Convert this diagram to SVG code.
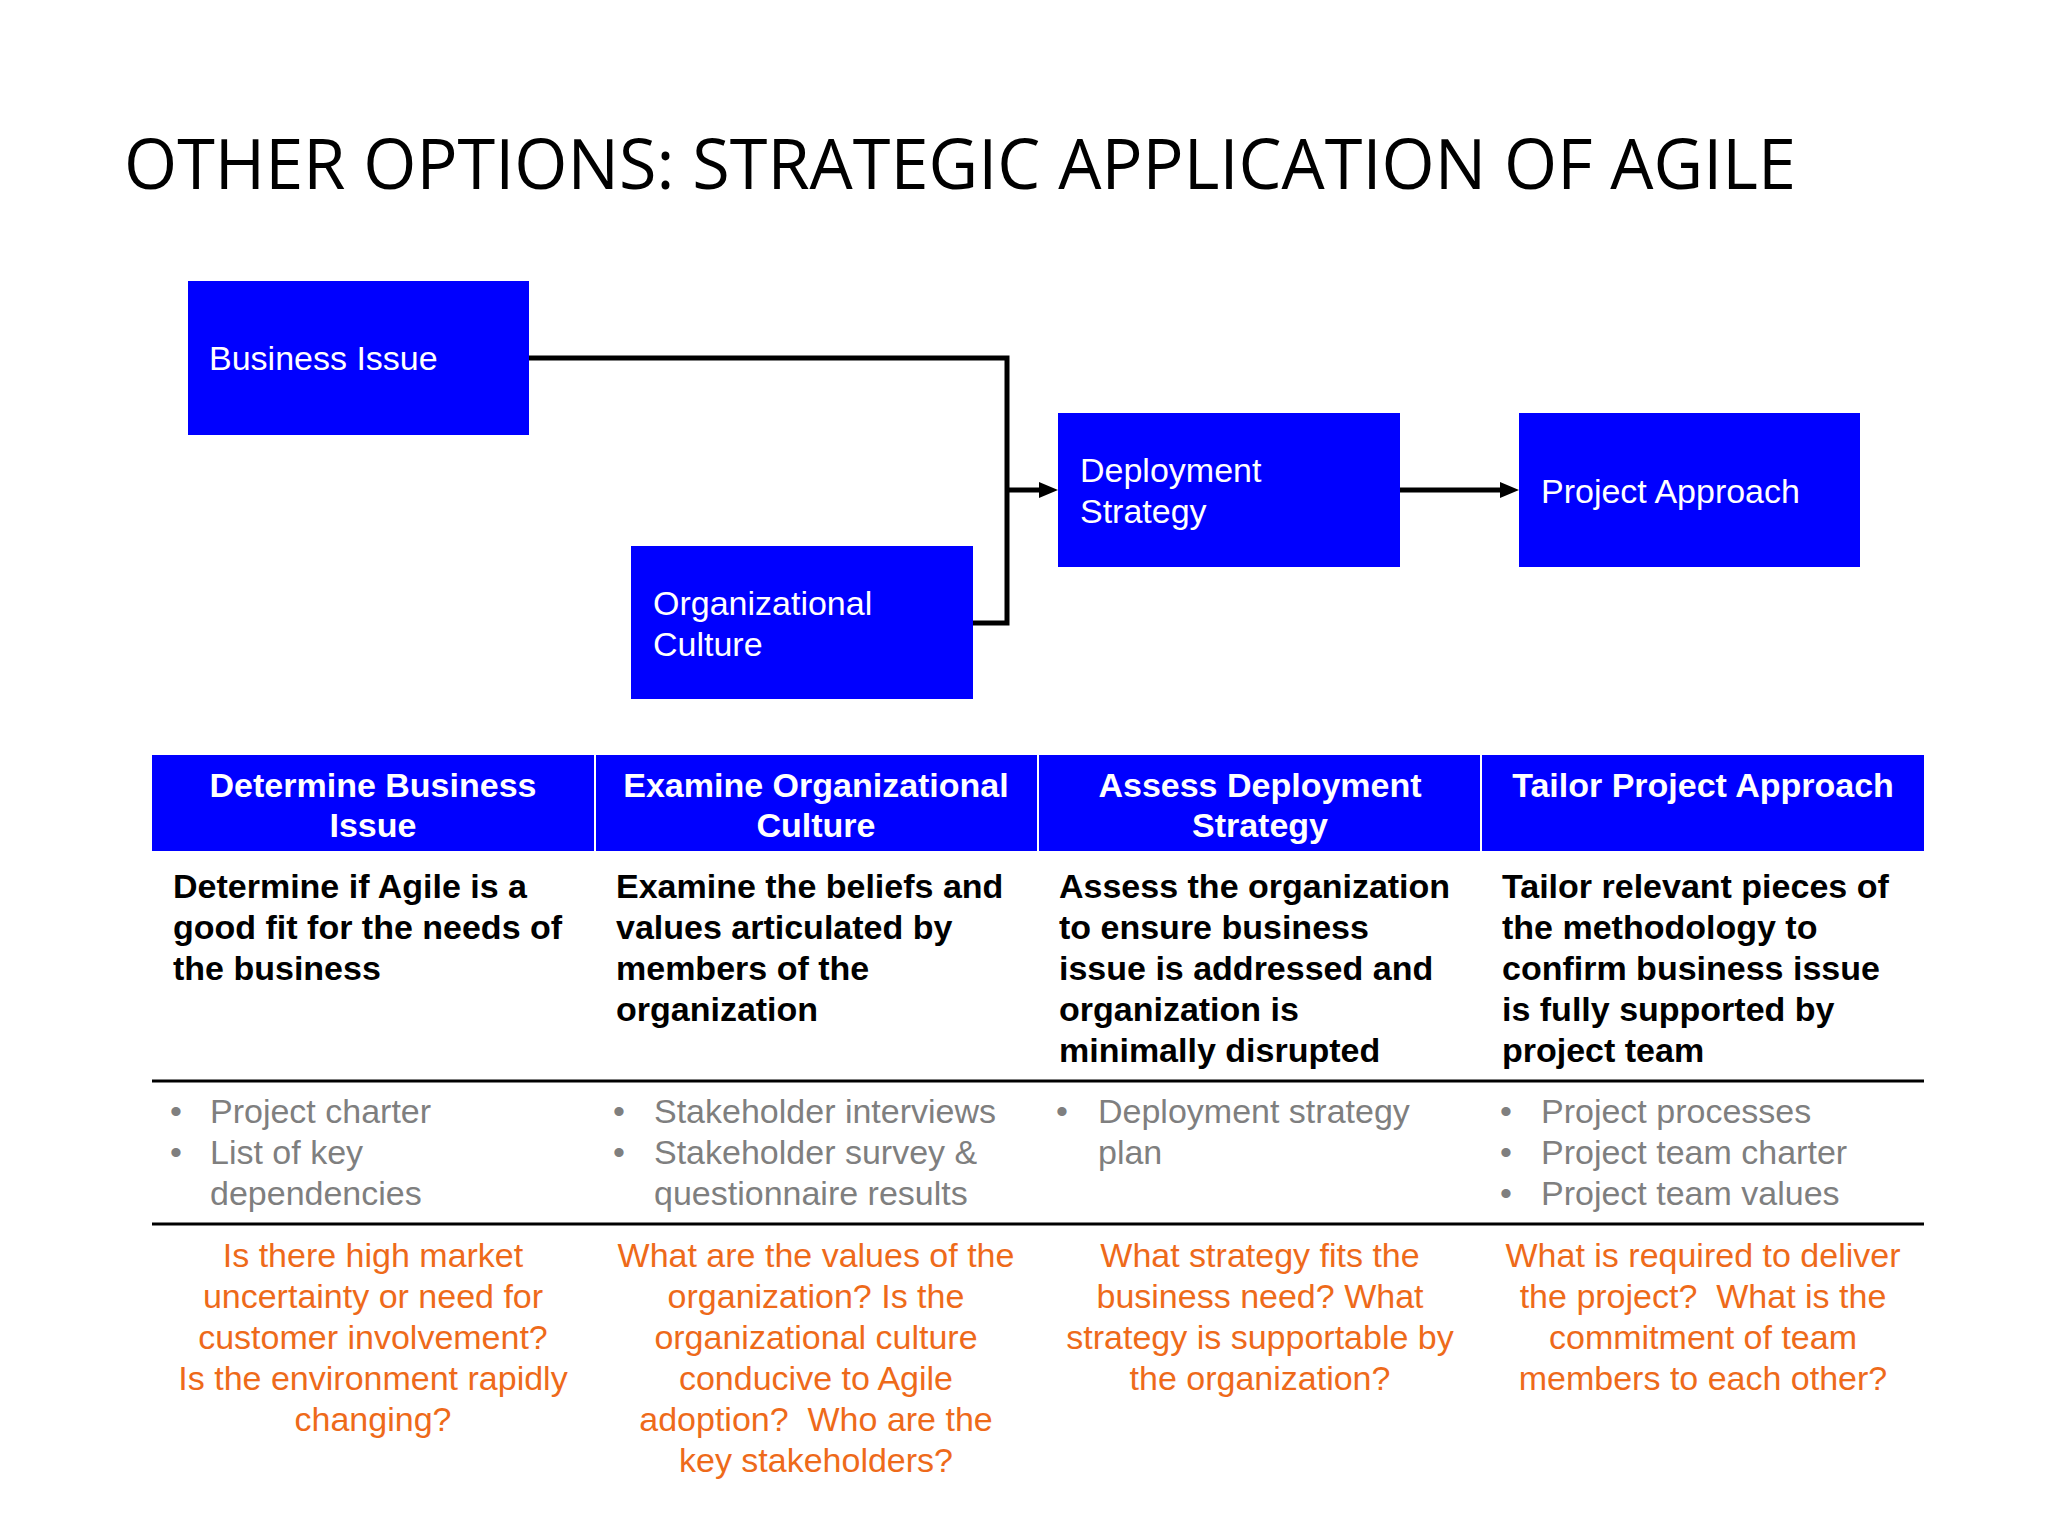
<svg xmlns="http://www.w3.org/2000/svg" width="2048" height="1536" viewBox="0 0 2048 1536">
<style>
.box{fill:#0000FF}
.lbl{font-family:"Liberation Sans",Arial,sans-serif;font-size:34px;fill:#FFFFFF}
.hdr{font-family:"Liberation Sans",Arial,sans-serif;font-size:34px;font-weight:bold;fill:#FFFFFF;text-anchor:middle}
.desc{font-family:"Liberation Sans",Arial,sans-serif;font-size:34px;font-weight:bold;fill:#000000}
.bul{font-family:"Liberation Sans",Arial,sans-serif;font-size:34px;fill:#7F7F7F}
.q{font-family:"Liberation Sans",Arial,sans-serif;font-size:34px;fill:#EE6A1A;text-anchor:middle}
.conn{fill:none;stroke:#000000;stroke-width:5}
.rule{stroke:#000000;stroke-width:3}
</style>
<defs>
<marker id="arr" markerUnits="userSpaceOnUse" markerWidth="19" markerHeight="16" refX="6" refY="8" orient="auto">
<path d="M0,0 L19,8 L0,16 z" fill="#000000"/>
</marker>
</defs>
<rect width="2048" height="1536" fill="#FFFFFF"/>
<text x="124" y="189" font-family="'Open Sans','Liberation Sans',sans-serif" font-size="70" fill="#000000" textLength="1672" lengthAdjust="spacingAndGlyphs">OTHER OPTIONS: STRATEGIC APPLICATION OF AGILE</text>

<g id="connectors">
<polyline class="conn" points="529,358 1007,358 1007,623 973,623"/>
<line class="conn" x1="1005" y1="490" x2="1045" y2="490" marker-end="url(#arr)"/>
<line class="conn" x1="1400" y1="490" x2="1506" y2="490" marker-end="url(#arr)"/>
</g>

<g id="business-issue">
<rect class="box" x="188" y="281" width="341" height="154"/>
<text class="lbl" x="209" y="370">Business Issue</text>
</g>
<g id="organizational-culture">
<rect class="box" x="631" y="546" width="342" height="153"/>
<text class="lbl" x="653" y="615">Organizational<tspan x="653" dy="41">Culture</tspan></text>
</g>
<g id="deployment-strategy">
<rect class="box" x="1058" y="413" width="342" height="154"/>
<text class="lbl" x="1080" y="482">Deployment<tspan x="1080" dy="41">Strategy</tspan></text>
</g>
<g id="project-approach">
<rect class="box" x="1519" y="413" width="341" height="154"/>
<text class="lbl" x="1541" y="503">Project Approach</text>
</g>

<g id="table">
<g id="col1">
<rect class="box" x="152" y="755" width="442" height="96"/>
<text class="hdr" x="373" y="797">Determine Business<tspan x="373" dy="40">Issue</tspan></text>
<text class="desc" x="173" y="898">Determine if Agile is a<tspan x="173" dy="41">good fit for the needs of</tspan><tspan x="173" dy="41">the business</tspan></text>
<text class="bul" x="170" y="1123">•</text><text class="bul" x="210" y="1123">Project charter</text>
<text class="bul" x="170" y="1164">•</text><text class="bul" x="210" y="1164">List of key<tspan x="210" dy="41">dependencies</tspan></text>
<text class="q" x="373" y="1267">Is there high market<tspan x="373" dy="41">uncertainty or need for</tspan><tspan x="373" dy="41">customer involvement?</tspan><tspan x="373" dy="41">Is the environment rapidly</tspan><tspan x="373" dy="41">changing?</tspan></text>
</g>
<g id="col2">
<rect class="box" x="596" y="755" width="441" height="96"/>
<text class="hdr" x="816" y="797">Examine Organizational<tspan x="816" dy="40">Culture</tspan></text>
<text class="desc" x="616" y="898">Examine the beliefs and<tspan x="616" dy="41">values articulated by</tspan><tspan x="616" dy="41">members of the</tspan><tspan x="616" dy="41">organization</tspan></text>
<text class="bul" x="613" y="1123">•</text><text class="bul" x="654" y="1123">Stakeholder interviews</text>
<text class="bul" x="613" y="1164">•</text><text class="bul" x="654" y="1164">Stakeholder survey &amp;<tspan x="654" dy="41">questionnaire results</tspan></text>
<text class="q" x="816" y="1267" xml:space="preserve">What are the values of the<tspan x="816" dy="41">organization? Is the</tspan><tspan x="816" dy="41">organizational culture</tspan><tspan x="816" dy="41">conducive to Agile</tspan><tspan x="816" dy="41">adoption?  Who are the</tspan><tspan x="816" dy="41">key stakeholders?</tspan></text>
</g>
<g id="col3">
<rect class="box" x="1039" y="755" width="441" height="96"/>
<text class="hdr" x="1260" y="797">Assess Deployment<tspan x="1260" dy="40">Strategy</tspan></text>
<text class="desc" x="1059" y="898">Assess the organization<tspan x="1059" dy="41">to ensure business</tspan><tspan x="1059" dy="41">issue is addressed and</tspan><tspan x="1059" dy="41">organization is</tspan><tspan x="1059" dy="41">minimally disrupted</tspan></text>
<text class="bul" x="1056" y="1123">•</text><text class="bul" x="1098" y="1123">Deployment strategy<tspan x="1098" dy="41">plan</tspan></text>
<text class="q" x="1260" y="1267">What strategy fits the<tspan x="1260" dy="41">business need? What</tspan><tspan x="1260" dy="41">strategy is supportable by</tspan><tspan x="1260" dy="41">the organization?</tspan></text>
</g>
<g id="col4">
<rect class="box" x="1482" y="755" width="442" height="96"/>
<text class="hdr" x="1703" y="797">Tailor Project Approach</text>
<text class="desc" x="1502" y="898">Tailor relevant pieces of<tspan x="1502" dy="41">the methodology to</tspan><tspan x="1502" dy="41">confirm business issue</tspan><tspan x="1502" dy="41">is fully supported by</tspan><tspan x="1502" dy="41">project team</tspan></text>
<text class="bul" x="1500" y="1123">•</text><text class="bul" x="1541" y="1123">Project processes</text>
<text class="bul" x="1500" y="1164">•</text><text class="bul" x="1541" y="1164">Project team charter</text>
<text class="bul" x="1500" y="1205">•</text><text class="bul" x="1541" y="1205">Project team values</text>
<text class="q" x="1703" y="1267" xml:space="preserve">What is required to deliver<tspan x="1703" dy="41">the project?  What is the</tspan><tspan x="1703" dy="41">commitment of team</tspan><tspan x="1703" dy="41">members to each other?</tspan></text>
</g>
<line class="rule" x1="152" y1="1081" x2="1924" y2="1081"/>
<line class="rule" x1="152" y1="1224" x2="1924" y2="1224"/>
</g>
</svg>
